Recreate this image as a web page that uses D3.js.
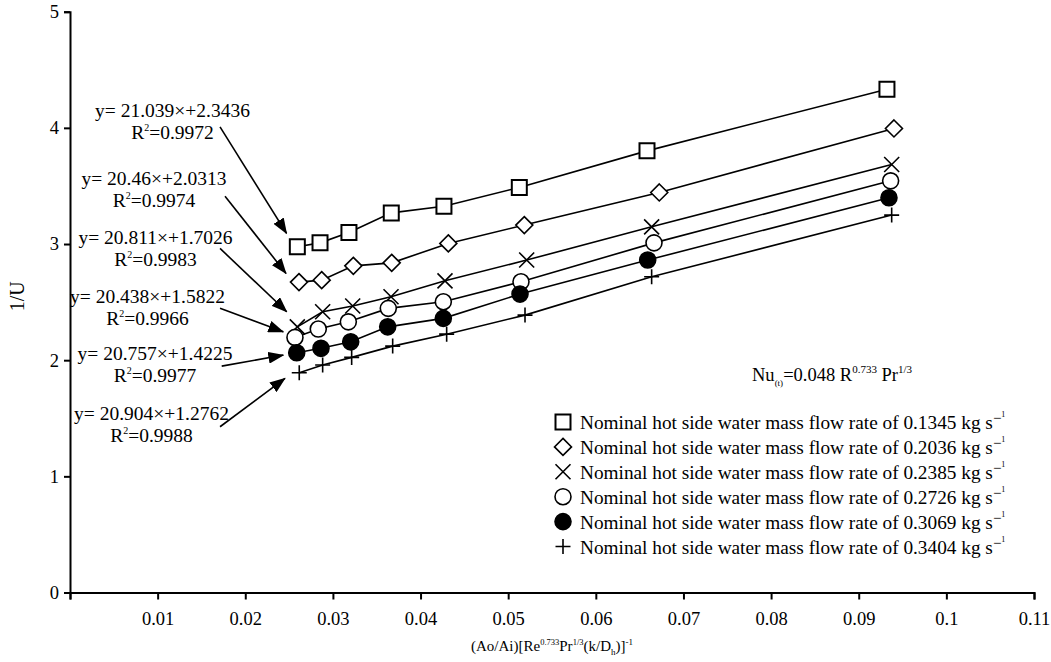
<!DOCTYPE html>
<html>
<head>
<meta charset="utf-8">
<script src="https://cdn.jsdelivr.net/npm/d3@7"></script>
<style>
  body { margin: 0; background: #fff; }
  svg text { font-family: "Liberation Serif", "Times New Roman", serif; fill: #000; }
</style>
</head>
<body>
<svg id="chart" width="1051" height="662"></svg>
<script>
// x values per series, (Ao/Ai)[Re^0.733 Pr^1/3 (k/Dh)]^-1
const xSquare  = [0.02594, 0.02853, 0.03183, 0.03666, 0.04267, 0.05127, 0.06584, 0.09322];
const xDiamond = [0.02613, 0.02872, 0.03233, 0.03671, 0.04317, 0.05184, 0.06724, 0.09402];
const xCross   = [0.02594, 0.02883, 0.03226, 0.03663, 0.04279, 0.05211, 0.06637, 0.09376];
const xCircle  = [0.02567, 0.02833, 0.03176, 0.03632, 0.04260, 0.05146, 0.06664, 0.09364];
const xDot     = [0.02587, 0.02864, 0.03203, 0.03625, 0.04260, 0.05135, 0.06592, 0.09345];
const xPlus    = [0.02616, 0.02883, 0.03214, 0.03682, 0.04298, 0.05192, 0.06637, 0.09376];

// 1/U values per series
const ySquare  = [2.976, 3.010, 3.100, 3.268, 3.325, 3.487, 3.802, 4.333];
const yDiamond = [2.672, 2.689, 2.812, 2.838, 3.005, 3.163, 3.444, 3.995];
const yCross   = [2.287, 2.417, 2.466, 2.546, 2.683, 2.862, 3.148, 3.685];
const yCircle  = [2.196, 2.268, 2.330, 2.446, 2.503, 2.675, 3.010, 3.544];
const yDot     = [2.064, 2.102, 2.158, 2.287, 2.360, 2.569, 2.862, 3.398];
const yPlus    = [1.892, 1.958, 2.024, 2.121, 2.224, 2.388, 2.718, 3.249];

const flowRates = ["0.1345", "0.2036", "0.2385", "0.2726", "0.3069", "0.3404"];
const markers   = ["square", "diamond", "cross", "circle", "dot", "plus"];

// regression labels and where they sit (data units)
const fitEquations = ["y= 21.039\u00d7+2.3436", "y= 20.46\u00d7+2.0313", "y= 20.811\u00d7+1.7026",
                      "y= 20.438\u00d7+1.5822", "y= 20.757\u00d7+1.4225", "y= 20.904\u00d7+1.2762"];
const fitR2     = ["0.9972", "0.9974", "0.9983", "0.9966", "0.9977", "0.9988"];
const labelAt   = [[0.01170, 4.092], [0.00958, 3.507], [0.00976, 2.999], [0.00884, 2.489], [0.00970, 2.001], [0.00930, 1.485]];
const arrowFrom = [[0.01712, 4.009], [0.01769, 3.412], [0.01712, 2.962], [0.01712, 2.446], [0.01731, 1.949], [0.01712, 1.427]];
const arrowTo   = [[0.02471, 3.091], [0.02465, 2.747], [0.02473, 2.417], [0.02434, 2.244], [0.02434, 2.044], [0.02453, 1.843]];

const xTicks = d3.range(0, 12).map(i => i / 100);
const yTicks = [0, 1, 2, 3, 4, 5];

const xs = [xSquare, xDiamond, xCross, xCircle, xDot, xPlus];
const ys = [ySquare, yDiamond, yCross, yCircle, yDot, yPlus];
const series = markers.map((m, i) => ({ marker: m, points: xs[i].map((x, j) => [x, ys[i][j]]) }));

const svg = d3.select("#chart");
const x = d3.scaleLinear().domain([0, 0.11]).range([70, 1034]);
const y = d3.scaleLinear().domain([0, 5]).range([592.5, 11.7]);

const markerPath = (type) => {
    const s = 7.5;
    switch (type) {
        case "square":  return `M${-s},${-s}H${s}V${s}H${-s}Z`;
        case "diamond": return `M0,${-8.5}L8.5,0L0,8.5L${-8.5},0Z`;
        case "cross":   return `M${-s},${-s}L${s},${s}M${-s},${s}L${s},${-s}`;
        case "plus":    return `M${-s},0H${s}M0,${-s}V${s}`;
        default:        return d3.arc()({ innerRadius: 0, outerRadius: 8, startAngle: 0, endAngle: 2 * Math.PI });
    }
};
const markerStyle = (sel, type) => sel
    .attr("d", markerPath(type))
    .attr("fill", type === "dot" ? "#000" : (type === "cross" || type === "plus") ? "none" : "#fff")
    .attr("stroke", "#000")
    .attr("stroke-width", type === "square" ? 2 : 1.6);

// writes text made of [string, "sup"|"sub"|null, size, lift] parts
const richText = (sel, parts, size) => {
    let shift = 0;
    parts.forEach(([t, kind, fs, lift]) => {
        const target = lift !== undefined ? lift : kind === "sup" ? -size * 0.42 : kind === "sub" ? size * 0.25 : 0;
        sel.append("tspan")
            .attr("dy", target - shift)
            .attr("font-size", fs || (kind ? size * 0.55 : size))
            .text(t);
        shift = target;
    });
};

// axes
const gx = svg.append("g").attr("transform", `translate(0,${y(0)})`)
    .call(d3.axisBottom(x).tickValues(xTicks).tickSizeOuter(0).tickSize(7).tickPadding(12)
        .tickFormat(d => d === 0 ? "" : String(+d.toFixed(2))));
const gy = svg.append("g").attr("transform", `translate(${x(0)},0)`)
    .call(d3.axisLeft(y).tickValues(yTicks).tickSizeOuter(0).tickSize(6).tickPadding(5).tickFormat(d3.format("d")));
[gx, gy].forEach(g => {
    g.select(".domain").attr("stroke-width", 2);
    g.selectAll(".tick line").attr("stroke-width", 2);
    g.selectAll(".tick text").attr("font-size", 18.5).attr("font-family", "Liberation Serif");
});

svg.append("text").attr("transform", `translate(24,${y(2.55)}) rotate(-90)`)
    .attr("text-anchor", "middle").attr("font-size", 20).text("1/U");

const xl = svg.append("text").attr("x", (x(0) + x(0.11)) / 2).attr("y", 651)
    .attr("text-anchor", "middle");
richText(xl, [["(Ao/Ai)[Re"], ["0.733", "sup", 8.5], ["Pr"], ["1/3", "sup", 8.5], ["(k/D"], ["h", "sub", 9], [")]"], ["-1", "sup", 9]], 15);

// lines and markers
const line = d3.line().x(d => x(d[0])).y(d => y(d[1]));
svg.append("g").selectAll("path").data(series).join("path")
    .attr("d", d => line(d.points)).attr("fill", "none").attr("stroke", "#000").attr("stroke-width", 1.6);

series.forEach(s => {
    svg.append("g").selectAll("path").data(s.points).join("path")
        .attr("transform", d => `translate(${x(d[0])},${y(d[1])})`)
        .call(markerStyle, s.marker);
});

// regression annotations with arrows
svg.append("defs").append("marker").attr("id", "head")
    .attr("viewBox", "0 0 16 12").attr("refX", 15).attr("refY", 6)
    .attr("markerWidth", 16).attr("markerHeight", 12).attr("markerUnits", "userSpaceOnUse")
    .attr("orient", "auto")
    .append("path").attr("d", "M0,0L16,6L0,12Z").attr("fill", "#000");

fitEquations.forEach((eq, i) => {
    const [lx, ly] = labelAt[i];
    svg.append("text").attr("x", x(lx)).attr("y", y(ly)).attr("text-anchor", "middle")
        .attr("font-size", 19.5).text(eq);
    const r = svg.append("text").attr("x", x(lx)).attr("y", y(ly) + 22).attr("text-anchor", "middle");
    richText(r, [["R"], ["2", "sup", 10], ["=" + fitR2[i]]], 19.5);
    svg.append("line")
        .attr("x1", x(arrowFrom[i][0])).attr("y1", y(arrowFrom[i][1]))
        .attr("x2", x(arrowTo[i][0])).attr("y2", y(arrowTo[i][1]))
        .attr("stroke", "#000").attr("stroke-width", 1.6).attr("marker-end", "url(#head)");
});

// correlation note
const nu = svg.append("text").attr("x", 752).attr("y", 381);
richText(nu, [["Nu"], ["(t)", "sub", 9], ["=0.048 R"], ["0.733", "sup", 11], [" Pr"], ["1/3", "sup", 11]], 18.5);

// legend
const legend = svg.append("g").attr("transform", "translate(563,422)");
markers.forEach((m, i) => {
    const row = legend.append("g").attr("transform", `translate(0,${i * 24.9})`);
    row.append("path").call(markerStyle, m);
    const t = row.append("text").attr("x", 17).attr("y", 7);
    richText(t, [[`Nominal hot side water mass flow rate of ${flowRates[i]} kg s`],
                 ["\u2212", "sup", 15, -6], ["1", "sup", 8, -12]], 19.3);
});
</script>
</body>
</html>
